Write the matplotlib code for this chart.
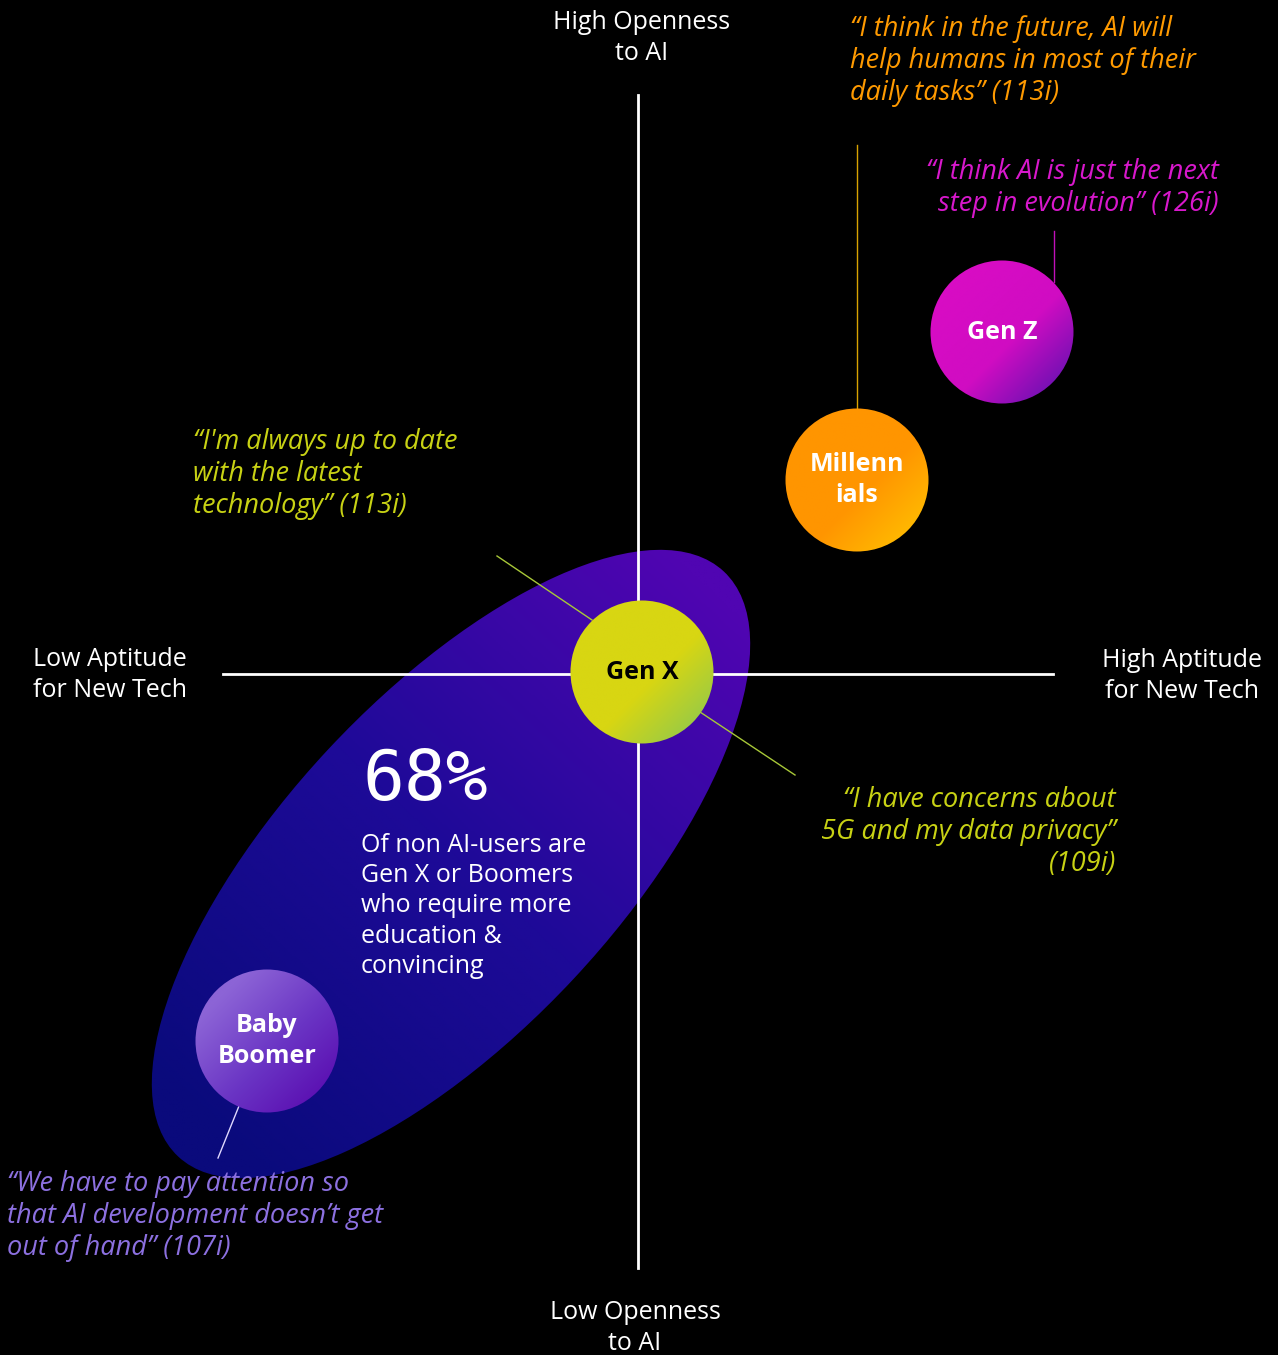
import numpy as np
import matplotlib.pyplot as plt
from matplotlib.patches import Circle, Ellipse
from matplotlib.colors import LinearSegmentedColormap

# generations placed on aptitude (x) / openness (y) scores
generations = ['Gen X', 'Millenn\nials', 'Gen Z', 'Baby\nBoomer']
aptitude = [0.04, 2.19, 3.64, -3.71]
openness = [0.02, 1.94, 3.42, -3.67]
radius = 0.715
main_col = ['#d8d612', '#ff9500', '#d80cc4', '#8c64d6']
mid_col = ['#d8d612', '#ff9500', '#d00cc2', '#6a34c4']
edge_col = ['#8cc850', '#ffc200', '#5e12b0', '#5808ae']
label_col = ['black', 'white', 'white', 'white']

# quotes and their leader lines
quotes = [
    '\u201cI think in the future, AI will\nhelp humans in most of their\ndaily tasks\u201d (113i)',
    '\u201cI think AI is just the next\nstep in evolution\u201d (126i)',
    '\u201cI\'m always up to date\nwith the latest\ntechnology\u201d (113i)',
    '\u201cI have concerns about\n5G and my data privacy\u201d\n(109i)',
    '\u201cWe have to pay attention so\nthat AI development doesn\u2019t get\nout of hand\u201d (107i)',
]
quote_x = [2.12, 5.81, -4.45, 4.78, -6.31]
quote_y = [6.13, 4.86, 2.00, -1.58, -5.42]
quote_ha = ['left', 'right', 'left', 'right', 'left']
quote_col = ['#ff9a00', '#d818cc', '#c8d214', '#c8d214', '#8c70e0']
leader_x = [(2.19, 2.19), (4.16, 4.16), (-1.41, -0.46), (0.62, 1.57), (-3.99, -4.20)]
leader_y = [(5.29, 2.65), (4.43, 3.92), (1.18, 0.54), (-0.38, -1.01), (-4.32, -4.84)]
leader_col = ['#d8a200', '#c010b8', '#a8c838', '#a8c838', '#e0d8ff']

stat_value = '68%'
stat_text = 'Of non AI-users are\nGen X or Boomers\nwho require more\neducation &\nconvincing'

fig = plt.figure(figsize=(12.78, 13.55), dpi=100, facecolor='black')
ax = fig.add_axes([0, 0, 1, 1])
ax.set_facecolor('black')
ax.set_xlim(-6.38, 6.40)
ax.set_ylim(-6.81, 6.74)
ax.axis('off')

font = 'Open Sans'

# big tilted ellipse with gradient
ell = Ellipse((-1.87, -1.90), 8.0, 3.36, angle=47, facecolor='none', edgecolor='none')
ax.add_patch(ell)
gx, gy = np.meshgrid(np.linspace(-6.2, 2.5, 400), np.linspace(-6.3, 2.5, 400))
d = ((gx + 1.87) * np.cos(np.radians(47)) + (gy + 1.90) * np.sin(np.radians(47))) / 4.0
ecmap = LinearSegmentedColormap.from_list('ell', ['#0a0a7c', '#1e0a98', '#5005b2'])
im = ax.imshow(d, extent=(-6.2, 2.5, -6.3, 2.5), origin='lower', cmap=ecmap,
               vmin=-0.9, vmax=0.95, zorder=1)
im.set_clip_path(ell)

# axes cross
ax.plot([0, 0], [-5.94, 5.79], color='white', lw=2, zorder=2)
ax.plot([-4.15, 4.15], [0, 0], color='white', lw=2, zorder=2)

axis_kw = dict(color='white', ha='center', va='center', fontsize=18, family=font,
               linespacing=1.28)
ax.text(0.04, 6.36, 'High Openness\nto AI', **axis_kw)
ax.text(-0.03, -6.54, 'Low Openness\nto AI', **axis_kw)
ax.text(-5.28, -0.01, 'Low Aptitude\nfor New Tech', **axis_kw)
ax.text(5.44, -0.02, 'High Aptitude\nfor New Tech', **axis_kw)

# leader lines
for lx, ly, c in zip(leader_x, leader_y, leader_col):
    ax.plot(lx, ly, color=c, lw=1, zorder=2)

# quotes
for q, x, y, ha, c in zip(quotes, quote_x, quote_y, quote_ha, quote_col):
    ax.text(x, y, q, color=c, ha=ha, va='center', fontsize=19.5, family=font,
            style='italic', linespacing=1.17, zorder=3)

# gradient circles
for name, x, y, c1, cm, c2, lc in zip(generations, aptitude, openness, main_col,
                                       mid_col, edge_col, label_col):
    circ = Circle((x, y), radius, facecolor='none', edgecolor='none', zorder=4)
    ax.add_patch(circ)
    cx, cy = np.meshgrid(np.linspace(-1, 1, 200), np.linspace(-1, 1, 200))
    t = (cx - cy) / 2.0
    cmap = LinearSegmentedColormap.from_list(name, [c1, cm, c2])
    r2 = radius * 1.05
    img = ax.imshow(t, extent=(x - r2, x + r2, y - r2, y + r2),
                    origin='lower', cmap=cmap, vmin=-0.6, vmax=0.85, zorder=4)
    img.set_clip_path(circ)
    ax.text(x, y, name, color=lc, ha='center', va='center', fontsize=18,
            family=font, fontweight='bold', linespacing=1.28, zorder=5)

# statistic
ax.text(-2.75, -1.06, stat_value, color='white', ha='left', va='center',
        fontsize=50, family='DejaVu Sans Mono', zorder=3)
ax.text(-2.77, -2.32, stat_text, color='white', ha='left', va='center',
        fontsize=18, family=font, linespacing=1.28, zorder=3)

plt.savefig('out.png', dpi=100, facecolor='black')
